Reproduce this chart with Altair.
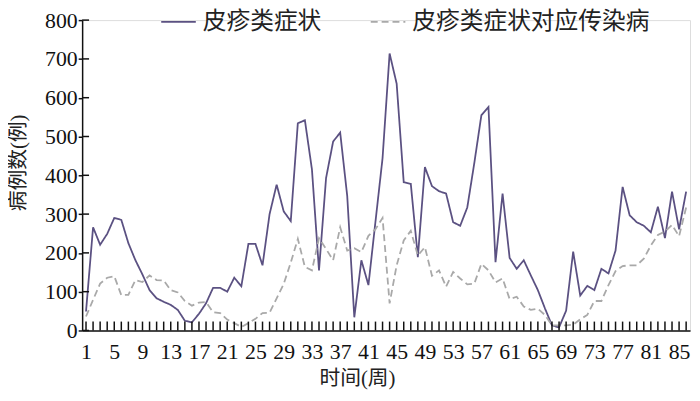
import altair as alt
import pandas as pd

weeks = list(range(1, 87))
rash_symptom = [49, 266, 221, 249, 290, 285, 225, 181, 144, 104,
                83, 74, 66, 53, 25, 21, 43, 70, 110, 110,
                100, 136, 114, 223, 223, 168, 300, 376, 307, 282,
                534, 542, 415, 155, 393, 487, 510, 346, 34, 181,
                117, 281, 444, 714, 636, 382, 378, 189, 421, 372,
                359, 353, 279, 270, 317, 432, 555, 576, 176, 353,
                187, 159, 181, 142, 104, 57, 13, 8, 51, 203,
                90, 115, 104, 159, 147, 206, 370, 297, 279, 270,
                253, 319, 238, 358, 261, 358]
rash_disease = [36, 79, 121, 136, 140, 91, 92, 130, 125, 142,
                130, 129, 104, 98, 76, 64, 72, 73, 47, 45,
                28, 19, 9, 19, 30, 45, 46, 83, 120, 175,
                236, 164, 155, 238, 210, 181, 266, 206, 212, 202,
                244, 261, 290, 70, 168, 232, 257, 193, 215, 141,
                155, 113, 151, 134, 119, 121, 172, 155, 124, 134,
                81, 87, 62, 53, 56, 40, 13, 13, 13, 15,
                29, 40, 76, 76, 117, 153, 166, 168, 168, 185,
                219, 246, 255, 272, 243, 317]
series_names = ["皮疹类症状", "皮疹类症状对应传染病"]
series_colors = ["#5b5182", "#a9a9a9"]
x_label_values = list(range(1, 86, 4))
y_tick_values = list(range(0, 801, 100))

W, H = 615, 314
NUM_FONT = "Liberation Serif"
CJK_FONT = "Liberation Serif, Noto Sans CJK SC"

df = pd.DataFrame({
    "week": weeks * 2,
    "value": rash_symptom + rash_disease,
    "series": [series_names[0]] * len(weeks) + [series_names[1]] * len(weeks),
})

x_scale = alt.Scale(domain=[0.45, 86.55], nice=False, zero=False)
y_scale = alt.Scale(domain=[0, 800], nice=False)

legend = alt.Legend(
    title=None, orient="none", direction="horizontal",
    legendX=79, legendY=-17,
    symbolType="stroke", symbolSize=1225, symbolStrokeWidth=1.8,
    labelFont=CJK_FONT, labelFontSize=24, labelColor="#222222", labelLimit=0,
    labelOffset=6, columnPadding=46,
)

x_axis = alt.Axis(values=x_label_values, title="时间(周)", ticks=False,
                  labelPadding=11, labelFlush=False, labelOverlap=False,
                  titleFontSize=21, titleX=278, titleY=49)
y_axis = alt.Axis(values=y_tick_values, title="病例数(例)", ticks=True, tickSize=4,
                  labelPadding=1, labelOverlap=False, titleFontSize=21,
                  titleX=-64, titleY=144)

lines = alt.Chart(df).mark_line(strokeWidth=1.8).encode(
    x=alt.X("week:Q", scale=x_scale, axis=x_axis),
    y=alt.Y("value:Q", scale=y_scale, axis=y_axis),
    color=alt.Color("series:N", scale=alt.Scale(domain=series_names, range=series_colors),
                    legend=legend),
    strokeDash=alt.StrokeDash("series:N",
                              scale=alt.Scale(domain=series_names, range=[[1, 0], [7, 4]]),
                              legend=legend),
)

xt = alt.Chart(pd.DataFrame({"week": weeks})).mark_rule(color="#111111", strokeWidth=1.5).encode(
    x=alt.X("week:Q", scale=x_scale, axis=x_axis),
    y=alt.value(H - 9),
    y2=alt.value(H),
)

yt = alt.Chart(pd.DataFrame({"value": y_tick_values})).mark_rule(color="#111111", strokeWidth=1.5).encode(
    y=alt.Y("value:Q", scale=y_scale, axis=y_axis),
    x=alt.value(0),
    x2=alt.value(7),
)

chart = alt.layer(lines, xt, yt).properties(
    width=W, height=H,
    autosize=alt.AutoSizeParams(type="none"),
    padding={"left": 75, "top": 10, "right": 2, "bottom": 61},
).configure_view(stroke=None).configure(background="white", font=NUM_FONT).configure_axis(
    labelFont=NUM_FONT, labelFontSize=22, labelColor="#111111",
    titleFont=CJK_FONT, titleFontWeight="normal", titleColor="#222222",
    titleBaseline="middle", titleAlign="center",
    domainColor="#111111", domainWidth=1.5, tickColor="#111111", tickWidth=1.5,
    grid=False, labelOverlap=False,
)

chart.save("out.html", embed_options={"renderer": "svg", "actions": False})
